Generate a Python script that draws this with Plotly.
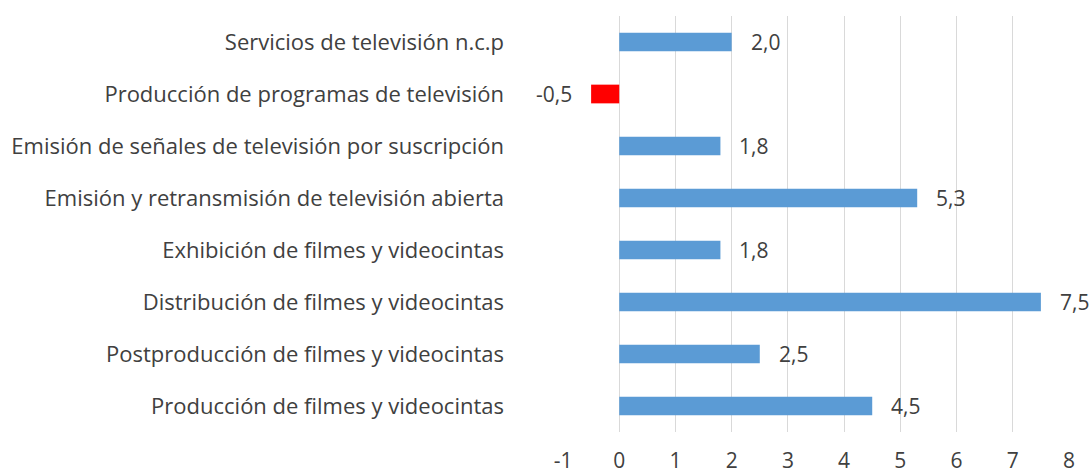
import plotly.graph_objects as go

categories = [
    "Producción de filmes y videocintas",
    "Postproducción de filmes y videocintas",
    "Distribución de filmes y videocintas",
    "Exhibición de filmes y videocintas",
    "Emisión y retransmisión de televisión abierta",
    "Emisión de señales de televisión por suscripción",
    "Producción de programas de televisión",
    "Servicios de televisión n.c.p",
]
values = [4.5, 2.5, 7.5, 1.8, 5.3, 1.8, -0.5, 2.0]
tick_vals = [-1, 0, 1, 2, 3, 4, 5, 6, 7, 8]

colors = ["#ff0000" if v < 0 else "#5b9bd5" for v in values]

fig = go.Figure()
fig.add_trace(go.Bar(
    y=categories, x=values, orientation="h",
    marker=dict(color=colors, line=dict(width=0)),
    width=0.36, hoverinfo="skip",
))

font_fam = "Open Sans, Lato, sans-serif"
txt_color = "#404040"
for c, v in zip(categories, values):
    fig.add_annotation(
        x=v, y=c, xref="x", yref="y",
        text=f"{v:.1f}".replace(".", ","),
        showarrow=False,
        xanchor="left" if v >= 0 else "right",
        xshift=17 if v >= 0 else -17,
        font=dict(family=font_fam, size=21, color=txt_color),
    )

fig.update_layout(
    width=1091, height=475,
    margin=dict(l=563, r=22, t=16, b=43, autoexpand=False),
    plot_bgcolor="white", paper_bgcolor="white",
    showlegend=False,
    font=dict(family=font_fam, size=21, color=txt_color),
    separators=",.",
)
fig.update_xaxes(
    range=[-1, 8], tickvals=tick_vals, ticktext=[str(t) for t in tick_vals],
    showgrid=True, gridcolor="#d9d9d9", gridwidth=1.3,
    zeroline=False, showline=False,
    ticklabelstandoff=14, automargin=False,
    tickfont=dict(size=21, color=txt_color),
)
fig.update_yaxes(
    showgrid=False, zeroline=False, showline=False,
    ticklabelstandoff=58, automargin=False,
    tickfont=dict(size=22, color=txt_color),
)

fig.write_html("out.html", config={"displayModeBar": False},
               post_script="document.body.style.margin='0';")
